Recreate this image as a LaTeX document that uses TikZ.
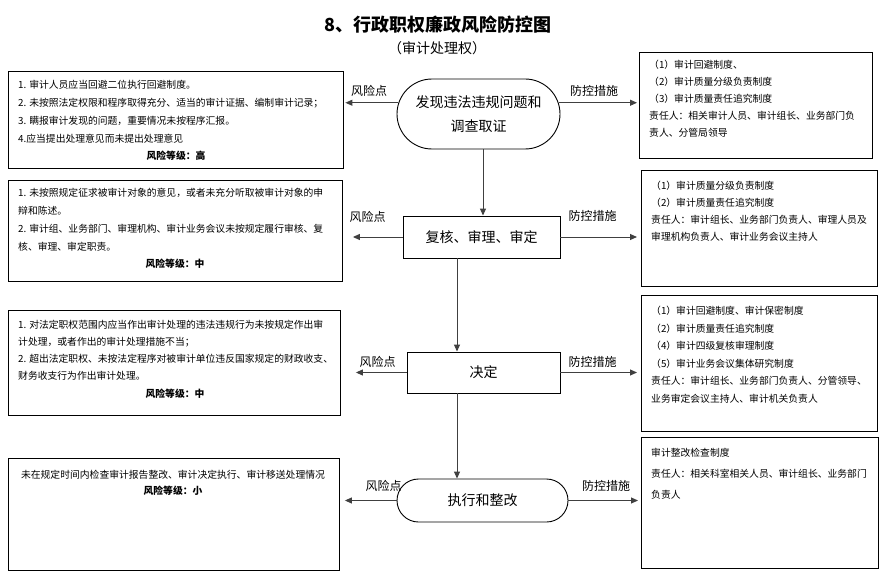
\documentclass[tikz,border=0pt]{standalone}
\usepackage{fontspec}
\setmainfont{Noto Sans CJK SC}
\usetikzlibrary{arrows.meta,shapes.misc}
\begin{document}
\begin{tikzpicture}[x=1pt,y=-1pt,
  box/.style={draw, line width=0.9pt, inner sep=0, anchor=north west},
  txt/.style={inner sep=0, anchor=north west, align=left, font=\fontsize{9.8}{17.5}\selectfont},
  risk/.style={inner sep=0, font=\fontsize{9.8}{12}\selectfont\bfseries},
  proc/.style={draw, line width=0.9pt, font=\fontsize{14}{24}\selectfont, align=center, inner sep=0},
  stad/.style={proc, rounded rectangle},
  lab/.style={inner sep=0, font=\fontsize{12}{14}\selectfont},
  arr/.style={line width=1pt, draw=black!75, -{Triangle[length=7pt,width=6pt]}},
]
\fill[white] (0,0) rectangle (883,575);
\useasboundingbox (0,0) rectangle (883,575);

% title
\node[inner sep=0, font=\fontsize{18}{20}\selectfont\bfseries] (title) at (438,25) {8、行政职权廉政风险防控图};
\node[inner sep=0, font=\fontsize{14}{16}\selectfont] (subtitle) at (437,48) {（审计处理权）};

% process nodes
\node[stad, minimum width=163pt, minimum height=70pt] (n1) at (478.5,114) {发现违法违规问题和\\调查取证};
\node[proc, minimum width=157pt, minimum height=42pt] (n2) at (481.5,237) {复核、审理、审定};
\node[proc, minimum width=153pt, minimum height=41pt] (n3) at (483.5,372.5) {决定};
\node[stad, minimum width=171pt, minimum height=43pt] (n4) at (482.5,500.5) {执行和整改};

% left boxes
\node[box, minimum width=335pt, minimum height=97pt] (lb1) at (8,71) {};
\node[txt, font=\fontsize{9.8}{18}\selectfont] (lt1) at (18,80) {1. 审计人员应当回避二位执行回避制度。\\2. 未按照法定权限和程序取得充分、适当的审计证据、编制审计记录；\\3. 瞒报审计发现的问题，重要情况未按程序汇报。\\4.应当提出处理意见而未提出处理意见};
\node[risk] (lr1) at (176,156) {风险等级：高};

\node[box, minimum width=334pt, minimum height=101pt] (lb2) at (8,180) {};
\node[txt, font=\fontsize{9.8}{18}\selectfont] (lt2) at (18,188) {1. 未按照规定征求被审计对象的意见，或者未充分听取被审计对象的申\\辩和陈述。\\2. 审计组、业务部门、审理机构、审计业务会议未按规定履行审核、复\\核、审理、审定职责。};
\node[risk] (lr2) at (175,264) {风险等级：中};

\node[box, minimum width=332pt, minimum height=105pt] (lb3) at (8,310) {};
\node[txt, font=\fontsize{9.8}{17}\selectfont] (lt3) at (18,320) {1. 对法定职权范围内应当作出审计处理的违法违规行为未按规定作出审\\计处理，或者作出的审计处理措施不当；\\2. 超出法定职权、未按法定程序对被审计单位违反国家规定的财政收支、\\财务收支行为作出审计处理。};
\node[risk] (lr3) at (175,394) {风险等级：中};

\node[box, minimum width=331pt, minimum height=112pt] (lb4) at (8,458) {};
\node[inner sep=0, font=\fontsize{9.8}{12}\selectfont] (lt4) at (173,475) {未在规定时间内检查审计报告整改、审计决定执行、审计移送处理情况};
\node[risk] (lr4) at (173,491) {风险等级：小};

% right boxes
\node[box, minimum width=233pt, minimum height=106pt] (rb1) at (639,52) {};
\node[txt, font=\fontsize{9.8}{17}\selectfont] (rt1) at (649,60) {（1）审计回避制度、\\（2）审计质量分级负责制度\\（3）审计质量责任追究制度\\责任人：相关审计人员、审计组长、业务部门负\\责人、分管局领导};

\node[box, minimum width=236pt, minimum height=116pt] (rb2) at (641,170) {};
\node[txt, font=\fontsize{9.8}{17}\selectfont] (rt2) at (651,181) {（1）审计质量分级负责制度\\（2）审计质量责任追究制度\\责任人：审计组长、业务部门负责人、审理人员及\\审理机构负责人、审计业务会议主持人};

\node[box, minimum width=236pt, minimum height=136pt] (rb3) at (641,295) {};
\node[txt, font=\fontsize{9.8}{17.5}\selectfont] (rt3) at (651,306) {（1）审计回避制度、审计保密制度\\（2）审计质量责任追究制度\\（4）审计四级复核审理制度\\（5）审计业务会议集体研究制度\\责任人：审计组长、业务部门负责人、分管领导、\\业务审定会议主持人、审计机关负责人};

\node[box, minimum width=237pt, minimum height=131pt] (rb4) at (641,437) {};
\node[txt, font=\fontsize{9.8}{21}\selectfont] (rt4) at (651,448) {审计整改检查制度\\责任人：相关科室相关人员、审计组长、业务部门\\负责人};

% labels
\node[lab] (r1) at (369,91) {风险点};
\node[lab] (p1) at (594,91) {防控措施};
\node[lab] (r2) at (367.5,217) {风险点};
\node[lab] (p2) at (592.5,216) {防控措施};
\node[lab] (r3) at (377.5,362) {风险点};
\node[lab] (p3) at (592.5,362) {防控措施};
\node[lab] (r4) at (383.5,486) {风险点};
\node[lab] (p4) at (606,486) {防控措施};

% vertical connectors
\coordinate (c1) at (483,0);
\coordinate (c2) at (457,0);
\draw[arr] (n1.south -| c1) -- (n2.north -| c1);
\draw[arr] (n2.south -| c2) -- (n3.north -| c2);
\draw[arr] (n3.south -| c2) -- (n4.north -| c2);

% horizontal connectors
\draw[arr, shorten >=1.5pt] (n1.172) -- (n1.172 -| lb1.east);
\draw[arr, shorten >=2pt] (n1.8) -- (n1.8 -| rb1.west);
\draw[arr, shorten >=10pt] (n2.west) -- (n2.west -| lb2.east);
\draw[arr, shorten >=4pt] (n2.east) -- (n2.east -| rb2.west);
\draw[arr, shorten >=15pt] (n3.west) -- (n3.west -| lb3.east);
\draw[arr, shorten >=4pt] (n3.east) -- (n3.east -| rb3.west);
\draw[arr, shorten >=5pt] (n4.west) -- (n4.west -| lb4.east);
\draw[arr, shorten >=3pt] (n4.east) -- (n4.east -| rb4.west);
\end{tikzpicture}
\end{document}
